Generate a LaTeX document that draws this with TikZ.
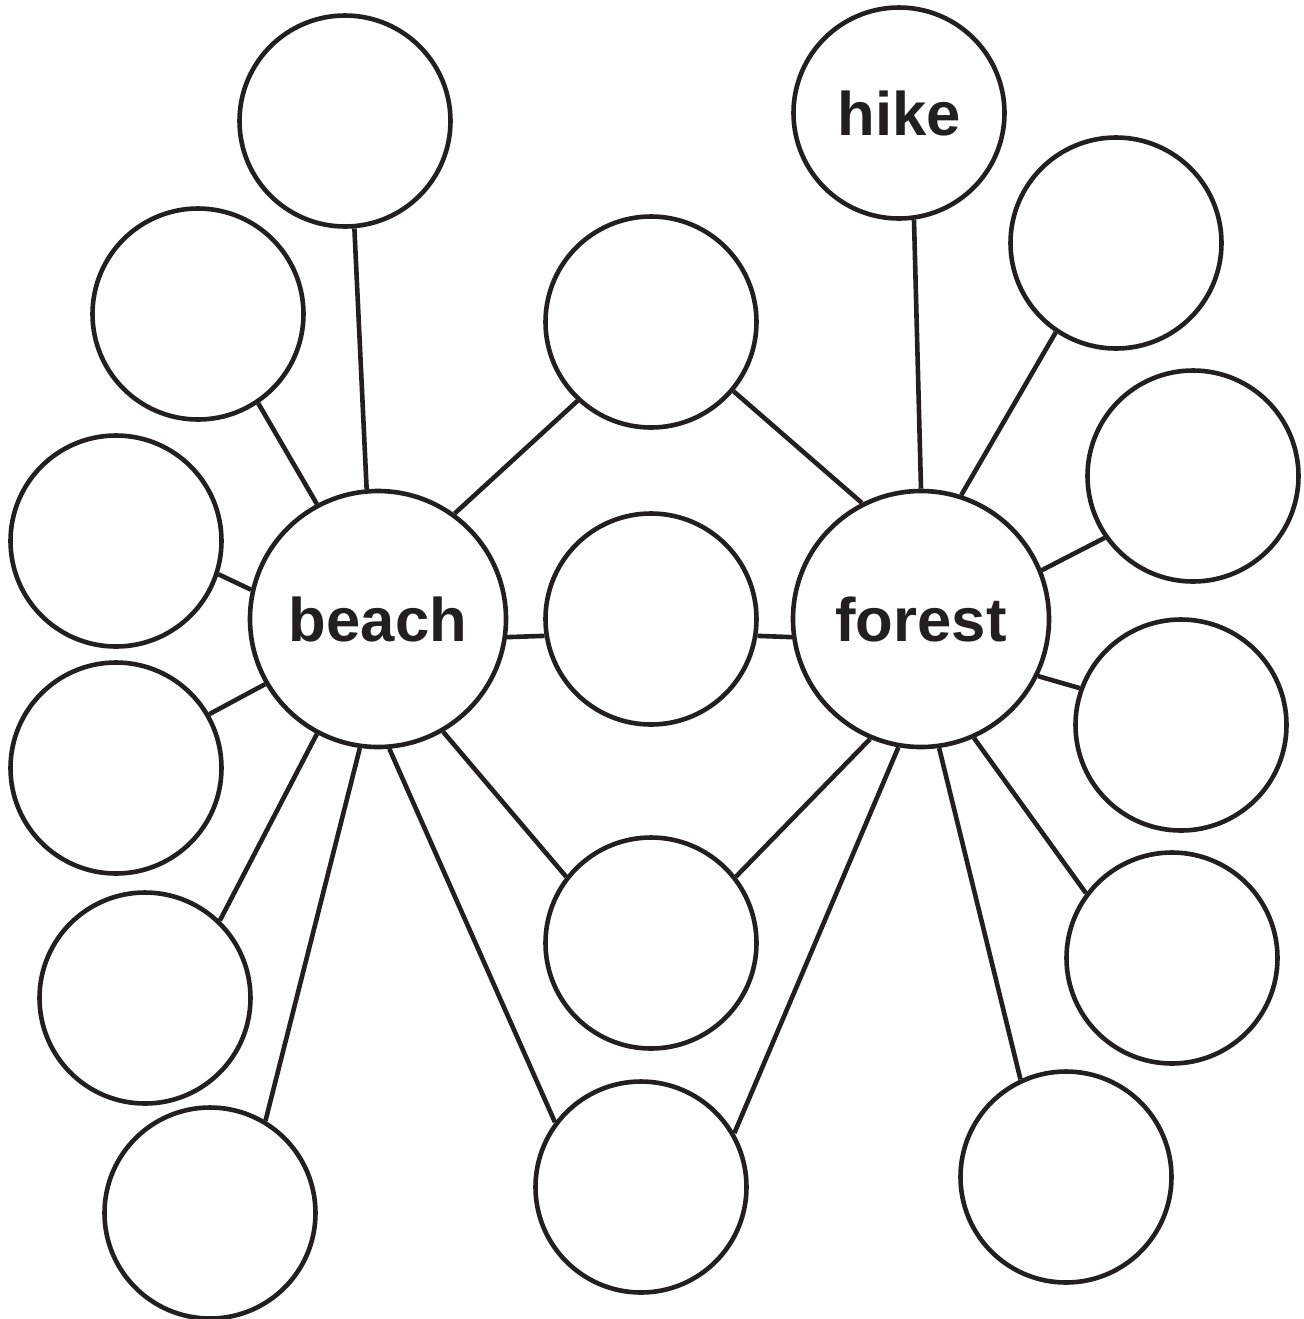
\documentclass[tikz,border=0pt]{standalone}
\usepackage{fontspec}
\setmainfont{Liberation Sans}
\usepackage{tikz}

\definecolor{ink}{HTML}{231F20}

\begin{document}
\begin{tikzpicture}[
x=0.5pt, y=-0.5pt,
topicnode/.style =
  {circle,
   draw=ink, line width=2.3pt,
   minimum size=128pt, inner sep=0pt,
   font=\fontsize{30.8}{36}\selectfont\bfseries, text=ink},
ideanode/.style =
  {circle,
   draw=ink, line width=2.3pt,
   minimum size=105.5pt, inner sep=0pt,
   font=\fontsize{30.8}{36}\selectfont\bfseries, text=ink},
link/.style={draw=ink, line width=2.3pt}
]
\useasboundingbox (0,0) rectangle (1304,1319);
%Nodes
\node[topicnode] (beach) at (378,619) {beach};
\node[topicnode] (forest) at (921,619) {forest};
\node[ideanode] (hike) at (899,113) {hike};
\node[ideanode] (l-1) at (345,121) {};
\node[ideanode] (l-2) at (198,314) {};
\node[ideanode] (l-3) at (116,541) {};
\node[ideanode] (l-4) at (116,768) {};
\node[ideanode] (l-5) at (145,998) {};
\node[ideanode] (l-6) at (210,1213) {};
\node[ideanode] (m-1) at (651,322) {};
\node[ideanode] (m-2) at (651,619) {};
\node[ideanode] (m-3) at (651,943) {};
\node[ideanode] (m-4) at (641,1187) {};
\node[ideanode] (r-1) at (1116,243) {};
\node[ideanode] (r-2) at (1193,476) {};
\node[ideanode] (r-3) at (1181,725) {};
\node[ideanode] (r-4) at (1172,958) {};
\node[ideanode] (r-5) at (1066,1177) {};
%Links beach
\draw[link] (beach.95) -- (l-1.275);
\draw[link] (beach.118) -- (l-2.304);
\draw[link] (beach.167) -- (l-3.342);
\draw[link] (beach.210) -- (l-4.30);
\draw[link] (beach.242) -- (l-5.46);
\draw[link] (beach.262) -- (l-6.59);
\draw[link] (beach.54) -- (m-1.227);
\draw[link] (beach.352) -- (m-2.189);
\draw[link] (beach.300) -- (m-3.142);
\draw[link] (beach.275) -- (m-4.143);
%Links forest
\draw[link] (forest.117) -- (m-1.320);
\draw[link] (forest.188) -- (m-2.351);
\draw[link] (forest.247) -- (m-3.38);
\draw[link] (forest.260) -- (m-4.30);
\draw[link] (forest.90) -- (hike.278);
\draw[link] (forest.72) -- (r-1.236);
\draw[link] (forest.22) -- (r-2.215);
\draw[link] (forest.334) -- (r-3.160);
\draw[link] (forest.294) -- (r-4.143);
\draw[link] (forest.278) -- (r-5.115);
\end{tikzpicture}
\end{document}
